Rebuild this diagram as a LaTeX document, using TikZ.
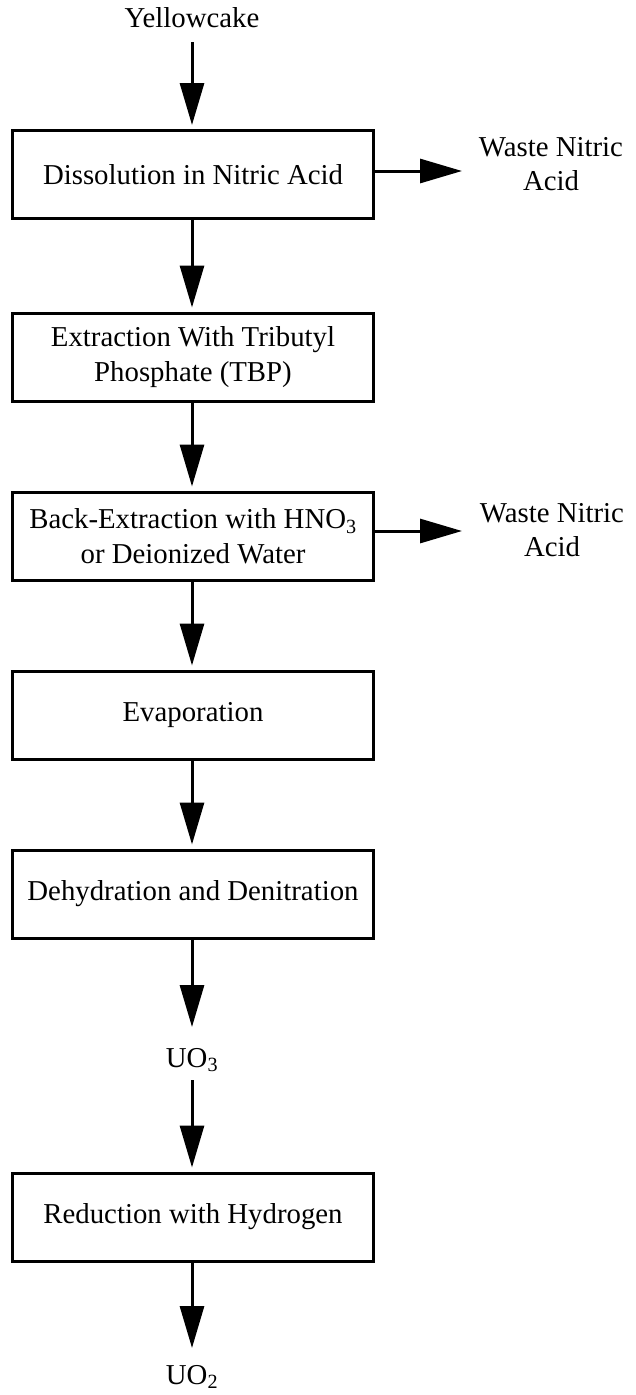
\documentclass[tikz,border=0pt]{standalone}
\usepackage{fontspec}
\setmainfont{Liberation Serif}
\usetikzlibrary{arrows.meta}
\begin{document}
\begin{tikzpicture}[x=1pt,y=-1pt,
  every node/.style={font=\fontsize{28.8}{34.5}\selectfont, align=center, inner sep=0pt},
  stepbox/.style={draw, line width=3pt, minimum width=361pt, minimum height=88pt},
  flow/.style={line width=3pt, -{Triangle[length=42pt,width=24pt]}}]
  \useasboundingbox (0,0) rectangle (636,1395);

  % process boxes
  \node[stepbox] (b1) at (193,174.5) {Dissolution in Nitric Acid};
  \node[stepbox] (b2) at (193,357) {Extraction With Tributyl\\Phosphate (TBP)};
  \node[stepbox] (b3) at (193,536) {Back-Extraction with HNO\textsubscript{3}\\or Deionized Water};
  \node[stepbox] (b4) at (193,715) {Evaporation};
  \node[stepbox] (b5) at (193,894) {Dehydration and Denitration};
  \node[stepbox] (b6) at (193,1217) {Reduction with Hydrogen};

  % feed, products and waste streams
  \node (yc) at (192,18) {Yellowcake};
  \node (uo3) at (192,1060) {UO\textsubscript{3}};
  \node (uo2) at (192,1377) {UO\textsubscript{2}};
  \node (w1) at (551,164) {Waste Nitric\\Acid};
  \node (w2) at (552,530) {Waste Nitric\\Acid};

  \coordinate (yc0) at (192,42);
  \coordinate (uo3top) at (192,1027);
  \coordinate (uo3bot) at (192,1080);
  \coordinate (uo2top) at (192,1348);
  \coordinate (w1tip) at (462,171);
  \coordinate (w2tip) at (462,531);

  % main flow
  \draw[flow, shorten >=4pt] (yc0) -- (yc0 |- b1.north);
  \draw[flow, shorten >=4pt] (yc0 |- b1.south) -- (yc0 |- b2.north);
  \draw[flow, shorten >=4pt] (yc0 |- b2.south) -- (yc0 |- b3.north);
  \draw[flow, shorten >=4pt] (yc0 |- b3.south) -- (yc0 |- b4.north);
  \draw[flow, shorten >=4pt] (yc0 |- b4.south) -- (yc0 |- b5.north);
  \draw[flow] (yc0 |- b5.south) -- (uo3top);
  \draw[flow, shorten >=4pt] (uo3bot) -- (uo3bot |- b6.north);
  \draw[flow] (uo3bot |- b6.south) -- (uo2top);

  % side streams
  \draw[flow] (b1.east |- w1tip) -- (w1tip);
  \draw[flow] (b3.east |- w2tip) -- (w2tip);
\end{tikzpicture}
\end{document}
